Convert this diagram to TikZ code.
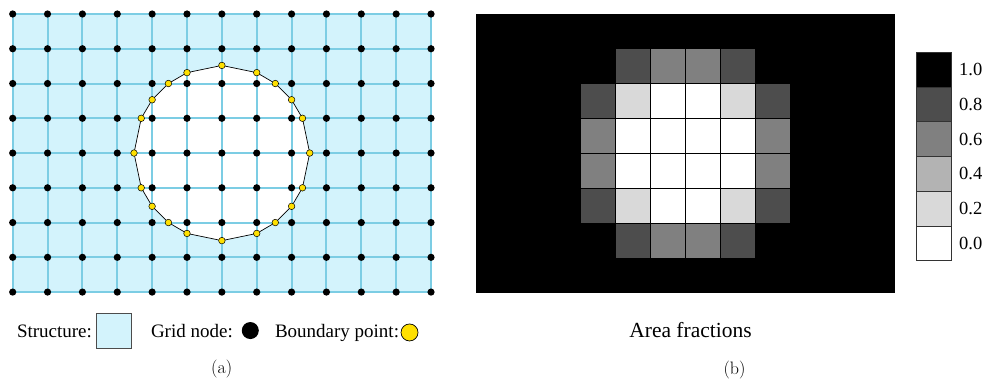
\documentclass[tikz,border=0pt]{standalone}
\usepackage{fontspec}
\newfontfamily\timesfont{Liberation Serif}
\usepackage{xcolor}
\definecolor{StructBlue}{HTML}{D3F3FC}
\definecolor{GridBlue}{HTML}{7CCDE4}
\definecolor{PointYellow}{HTML}{FFE000}
\definecolor{frac10}{HTML}{000000}
\definecolor{frac08}{HTML}{4D4D4D}
\definecolor{frac06}{HTML}{808080}
\definecolor{frac04}{HTML}{B3B3B3}
\definecolor{frac02}{HTML}{D9D9D9}
\definecolor{frac00}{HTML}{FFFFFF}
\usepackage{tikz}
\usetikzlibrary{positioning}

\begin{document}
\begin{tikzpicture}[x=1pt,y=-1pt,
  gridline/.style={GridBlue,line width=2pt},
  gridnode/.style={circle,fill=black,inner sep=0pt,outer sep=0pt,minimum size=7.2pt},
  bpoint/.style={circle,draw=black,line width=0.5pt,fill=PointYellow,inner sep=0pt,outer sep=0pt,minimum size=6.6pt},
  rimline/.style={black,line width=0.7pt},
  cell/.style={draw=black,line width=0.6pt},
  barbox/.style={draw=black!80,line width=0.6pt},
  legbox/.style={draw=black!70,fill=StructBlue,line width=0.6pt,minimum size=35pt,inner sep=0pt,outer sep=0pt},
  legtext/.style={font=\timesfont\fontsize{19}{22}\selectfont,inner sep=0pt,outer sep=0pt},
  bartext/.style={font=\timesfont\fontsize{18.5}{22}\selectfont,inner sep=0pt},
  subcap/.style={font=\fontsize{18}{21}\selectfont,inner sep=0pt}
]
  \useasboundingbox (0,0) rectangle (987,379);

  % (a) structure on the grid
  \begin{scope}[shift={(12.7pt,-14pt)},x=34.86pt,y=-34.76pt]
    \fill[StructBlue] (0,0) rectangle (12,8);
    \begin{scope}[shift={(6,4)}]
      \fill[white] plot[samples at={0,23.38,37.47,52.53,66.62,90,113.38,127.47,142.53,156.62,180,203.38,217.47,232.53,246.62,270,293.38,307.47,322.53,336.62}] (\x:2.52) -- cycle;
    \end{scope}
    \foreach \i in {0,...,12}
      \draw[gridline] (\i,0) -- (\i,8);
    \foreach \j in {0,...,8}
      \draw[gridline] (0,\j) -- (12,\j);
    \foreach \i in {0,...,12}
      \foreach \j in {0,...,8}
        \node[gridnode] (g-\i-\j) at (\i,\j) {};
    \begin{scope}[shift={(6,4)}]
      \foreach \a [count=\k] in {0,23.38,37.47,52.53,66.62,90,113.38,127.47,142.53,156.62,180,203.38,217.47,232.53,246.62,270,293.38,307.47,322.53,336.62}
        \node[bpoint] (b\k) at (\a:2.52) {};
      \foreach \k [remember=\k as \p (initially 20)] in {1,...,20}
        \draw[rimline] (b\p) -- (b\k);
    \end{scope}
  \end{scope}

  \node[legtext,anchor=base west] (structure) at (17,337) {Structure:};
  \node[legbox,right=4pt of structure] (structure-box) {};
  \node[legtext,anchor=base west] (gridnode-lab) at (151,337) {Grid node:};
  \node[gridnode,minimum size=17pt,right=9pt of gridnode-lab] (gridnode-leg) {};
  \node[legtext,anchor=base west] (bpoint-lab) at (275,337) {Boundary point:};
  \node[bpoint,line width=0.7pt,minimum size=17pt,right=2pt of bpoint-lab] (bpoint-leg) {};
  \node[subcap] (cap-a) at (221.7,369) {(a)};

  % (b) area fractions
  \begin{scope}[shift={(476pt,-13.7pt)},x=34.9pt,y=-34.9pt]
    \fill[black] (0,0) rectangle (12,8);
    \foreach \r/\vals in {1/{10,08,06,06,08,10},2/{08,02,00,00,02,08},3/{06,00,00,00,00,06},4/{06,00,00,00,00,06},5/{08,02,00,00,02,08},6/{10,08,06,06,08,10}}
      \foreach \v [count=\c from 3] in \vals
        \draw[cell,fill=frac\v] (\c,\r) rectangle ++(1,1);
  \end{scope}

  \foreach \v/\lab [count=\i from 0] in {10/1.0,08/0.8,06/0.6,04/0.4,02/0.2,00/0.0} {
    \draw[barbox,fill=frac\v] (916.7,{52.3+34.73*\i}) rectangle ++(35,34.73);
    \node[bartext,anchor=west] (bar-\v) at (959,{52.3+34.73*(\i+0.5)}) {\lab};
  }

  \node[legtext,font=\timesfont\fontsize{21.5}{24}\selectfont,anchor=base] (area) at (690.5,337) {Area fractions};
  \node[subcap] (cap-b) at (734.5,370) {(b)};
\end{tikzpicture}
\end{document}
